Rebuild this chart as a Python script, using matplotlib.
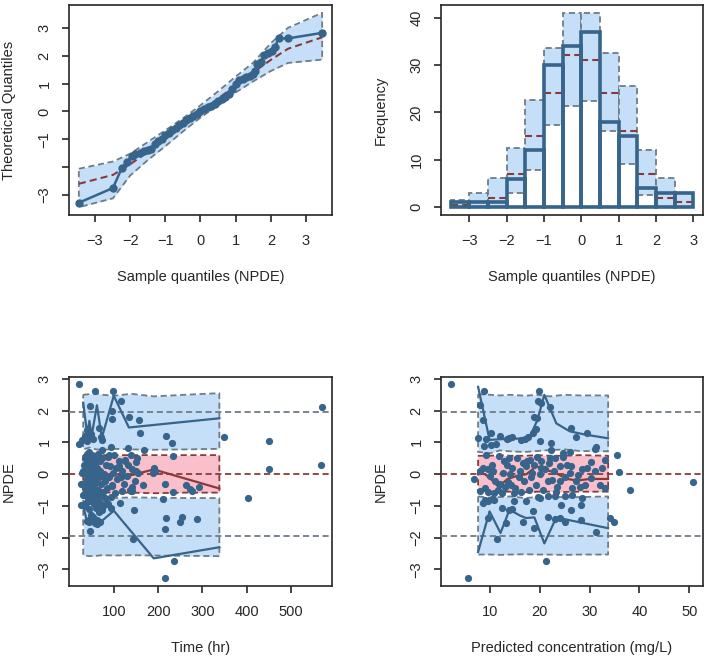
import numpy as np
import matplotlib.pyplot as plt

plt.rcParams['font.family'] = ['Liberation Sans', 'DejaVu Sans']

# ---- data ----
# QQ plot: theoretical quantile (x) vs sorted NPDE (y)
qq_x = [-3.46, -2.49, -2.24, -2.10, -1.95, -1.85, -1.72, -1.62, -1.50, -1.40, -1.30,
        -1.20, -1.10, -1.00, -0.90, -0.80, -0.70, -0.60, -0.50, -0.40, -0.30, -0.20,
        -0.10, 0.00, 0.10, 0.20, 0.30, 0.40, 0.50, 0.60, 0.70, 0.80, 0.90, 1.00, 1.10,
        1.20, 1.30, 1.40, 1.50, 1.56, 1.62, 1.72, 1.82, 1.92, 2.02, 2.12, 2.22, 2.49, 3.46]
qq_y = [-3.28, -2.75, -2.04, -1.82, -1.60, -1.52, -1.48, -1.44, -1.40, -1.36, -1.18,
        -1.08, -0.98, -0.85, -0.76, -0.68, -0.60, -0.50, -0.40, -0.32, -0.25, -0.17,
        -0.08, 0.00, 0.08, 0.14, 0.18, 0.28, 0.36, 0.44, 0.52, 0.62, 0.80, 0.98, 1.12,
        1.16, 1.22, 1.26, 1.34, 1.45, 1.70, 1.76, 2.02, 2.10, 2.16, 2.32, 2.62, 2.62, 2.82]
qq_band_x = [-3.46, -2.49, -2.0, -1.5, -1.0, -0.5, 0.0, 0.5, 1.0, 1.5, 2.0, 2.49, 3.46]
qq_band_lo = [-3.44, -3.12, -2.30, -1.75, -1.25, -0.72, -0.22, 0.22, 0.68, 1.08, 1.45, 1.74, 1.86]
qq_band_med = [-2.60, -2.28, -1.90, -1.45, -0.95, -0.48, 0.00, 0.46, 0.92, 1.40, 1.85, 2.25, 2.66]
qq_band_hi = [-2.06, -1.80, -1.52, -1.10, -0.68, -0.25, 0.22, 0.72, 1.25, 1.75, 2.45, 3.00, 3.54]

# histogram of NPDE, bins of 0.5 from -3.5 to 3
hist_edges = [-3.5, -3.0, -2.5, -2.0, -1.5, -1.0, -0.5, 0.0, 0.5, 1.0, 1.5, 2.0, 2.5, 3.0]
hist_obs = [1, 1, 1, 6, 12, 30, 34, 37, 18, 15, 4, 3, 3]
hist_lo = [0, 0, 0, 3.0, 7.9, 17.4, 21.4, 22.4, 16.0, 9.1, 2.6, 0, 0]
hist_med = [0.5, 1.0, 1.9, 7.0, 15.0, 24.0, 32.0, 31.0, 24.0, 16.0, 7.0, 2.0, 1.0]
hist_hi = [1.5, 3.1, 6.1, 12.5, 22.6, 33.5, 41.0, 41.0, 32.5, 25.6, 12.0, 6.1, 3.0]

# NPDE vs time (hr)
time_obs = np.array([
    (21, 2.84), (58, 2.63), (98, 2.63), (116, 2.32), (46, 2.16), (95, 1.98), (95, 1.73),
    (134, 1.79), (157, 1.71), (160, 1.31), (218, 1.19), (231, 0.99), (67, 1.45), (40, 1.40),
    (72, 1.17), (21, 0.94), (28, 1.08), (32, 1.12), (36, 1.20), (40, 1.05), (44, 1.15),
    (48, 1.25), (52, 1.10), (74, 1.08), (93, 0.85), (132, 0.82), (168, 0.76), (234, 0.58),
    (349, 1.16), (451, 1.03), (570, 2.13), (449, 0.15), (568, 0.29), (402, -0.76),
    (190, 0.20), (193, 0.10), (188, 0.05), (166, -0.34), (233, -0.55), (262, -0.34),
    (272, -0.47), (276, -0.52), (291, -0.39), (212, -0.78), (215, -0.31), (145, -1.13),
    (218, -1.39), (216, -1.71), (249, -1.52), (254, -1.36), (287, -1.40), (144, -2.04),
    (236, -2.74), (215, -3.28), (47, -1.80), (44, -1.50), (68, -1.50), (63, -1.57),
    (26, -0.96), (40, -1.48), (62, -1.43), (73, -1.12), (93, -1.07), (115, -0.91),
    (141, -0.54), (140, -0.40), (119, -0.54), (93, -0.72), (74, 0.76), (89, 0.60),
    (111, 0.26), (126, 0.42), (149, 0.39), (150, 0.10), (96, -0.38), (117, -0.10),
    (138, -0.54),
    (30, 0.10), (33, -0.30), (35, 0.50), (36, -0.60), (38, 0.20), (38, -0.90), (39, 0.65),
    (40, -0.20), (40, 0.35), (41, -0.50), (42, 0.00), (42, -0.75), (43, 0.55), (43, -1.10),
    (44, 0.15), (45, -0.35), (45, 0.70), (46, -0.60), (46, 0.30), (47, -0.05), (47, -0.85),
    (48, 0.45), (49, -0.25), (49, -1.30), (50, 0.60), (50, 0.05), (51, -0.45), (52, 0.25),
    (52, -0.70), (53, -0.15), (54, 0.50), (55, -0.95), (55, 0.10), (56, -0.35), (57, 0.35),
    (58, -0.60), (59, 0.00), (60, 0.55), (61, -0.25), (62, -0.80), (63, 0.20), (64, 0.65),
    (65, -0.50), (66, -0.10), (68, 0.40), (69, -0.70), (70, 0.10), (72, -0.30), (74, 0.50),
    (76, -0.55), (78, 0.00), (80, -0.20), (82, 0.30), (85, -0.45), (88, 0.55), (90, -0.10),
    (92, 0.25), (95, -0.35), (98, 0.05), (100, 0.60), (102, -0.60), (105, 0.20),
    (108, -0.15), (112, 0.40), (118, 0.10), (122, -0.30), (125, 0.45), (130, -0.05),
    (133, 0.30), (136, -0.50), (138, 0.60), (142, 0.15), (148, -0.20), (152, 0.50),
    (155, 0.05), (26, -0.30), (28, 0.05), (30, -0.65), (32, 0.30), (34, -1.00),
    (36, -0.45), (37, 0.00), (39, -0.15), (41, 0.40), (44, -0.55), (48, -0.40), (53, 0.30),
    (58, 0.15), (60, -1.05), (66, -1.20), (70, -0.90), (45, -1.45), (52, -1.35),
    (57, -1.55), (75, -1.00), (80, -0.75), (85, -0.90), (88, -0.95),
])
time_bins = [31, 45, 60, 75, 100, 140, 190, 260, 338]
time_up_hi = [2.50, 2.52, 2.55, 2.50, 2.47, 2.53, 2.45, 2.50, 2.55]
time_up_lo = [0.78, 0.84, 0.78, 0.76, 0.80, 0.78, 0.77, 0.78, 0.80]
time_mid_hi = [0.60, 0.60, 0.58, 0.60, 0.60, 0.60, 0.60, 0.60, 0.60]
time_mid_lo = [-0.58, -0.58, -0.60, -0.58, -0.58, -0.58, -0.60, -0.58, -0.58]
time_dn_hi = [-0.72, -0.78, -0.74, -0.72, -0.75, -0.73, -0.74, -0.75, -0.75]
time_dn_lo = [-2.55, -2.58, -2.57, -2.55, -2.56, -2.55, -2.56, -2.57, -2.58]
time_p_hi_x = [31, 40, 45, 50, 62, 73, 100, 134, 338]
time_p_hi = [2.25, 1.26, 1.68, 1.20, 2.17, 1.15, 2.47, 1.47, 1.76]
time_p_med_x = [31, 40, 50, 62, 75, 100, 134, 190, 338]
time_p_med = [-0.35, -0.10, -0.30, 0.00, -0.15, 0.00, -0.05, 0.15, -0.45]
time_p_lo_x = [31, 40, 50, 62, 75, 100, 190, 338]
time_p_lo = [-1.00, -1.50, -1.30, -1.55, -1.45, -1.15, -2.65, -2.30]

# NPDE vs predicted concentration (mg/L)
pred_obs = np.array([
    (2.1, 2.84), (5.5, -3.28), (6.8, -0.15), (35.5, 0.60), (35.9, 0.08), (38.0, -0.50),
    (50.8, -0.24), (34.1, -1.37), (34.9, -1.50), (21.2, -2.74), (31.2, -1.81),
    (8.7, 2.62), (8.0, 2.18), (8.5, 1.71), (19.8, 2.62), (19.6, 2.30), (20.2, 2.25),
    (22.0, 2.10), (19.5, 1.76), (18.8, 1.80), (26.3, 1.47), (27.2, 1.17), (29.4, 1.31),
    (19.2, 1.42), (18.6, 1.30),
    (7.55, 1.15), (9.2, 1.10), (8.8, 0.90), (10.2, 0.91), (10.2, 1.30), (11.2, 0.94),
    (11.9, 1.20), (13.9, 1.15), (13.5, 1.10), (14.5, 1.18), (16.2, 1.07), (17.7, 1.18),
    (17.0, 1.10), (20.0, 1.05), (22.3, 0.99), (22.2, 0.76), (24.6, 0.68), (26.0, 0.70),
    (31.0, 0.80), (31.3, 0.85),
    (9.2, 0.60), (11.7, 0.57), (13.9, 0.52), (16.6, 0.34), (15.5, 0.50), (17.5, 0.40),
    (7.9, 0.10), (8.5, 0.20), (9.5, 0.15), (10.0, -0.05), (10.5, 0.10), (12.0, -0.30),
    (12.5, 0.05), (13.4, 0.28), (13.0, -0.40), (13.6, -0.25), (14.0, 0.00), (14.2, -0.35),
    (14.5, 0.20), (15.0, -0.45), (16.0, 0.10), (16.8, -0.20), (17.2, 0.25), (18.0, 0.45),
    (18.3, -0.10), (18.8, 0.30), (19.2, -0.35), (19.5, 0.55), (20.0, 0.00), (20.3, 0.40),
    (20.7, -0.50), (21.0, 0.15), (21.6, -0.22), (21.8, 0.35), (22.5, -0.18), (22.8, 0.10),
    (23.0, 0.50), (23.5, -0.40), (24.0, 0.25), (24.6, 0.55), (25.0, -0.10), (25.5, 0.30),
    (26.3, 0.26), (26.5, -0.45), (27.3, -0.22), (27.6, -0.03), (28.5, 0.15), (29.0, -0.35),
    (30.3, 0.39), (30.3, -0.11), (31.0, 0.10), (32.0, -0.33), (32.5, 0.20), (33.0, -0.45),
    (8.9, -0.43), (7.9, -0.54), (9.5, -0.55), (10.8, -0.60), (11.5, -0.50), (12.3, -0.60),
    (10.3, 0.30), (11.0, -0.20), (12.8, 0.40), (15.8, -0.10), (17.8, -0.50), (20.2, 0.20),
    (22.0, 0.50), (24.0, -0.20), (26.0, 0.05), (28.0, -0.40), (29.5, 0.20), (33.0, 0.45),
    (23.2, -0.55), (16.3, -0.55), (14.8, -0.60), (18.5, 0.05),
    (8.55, -0.91), (9.0, -0.80), (9.6, -0.85), (10.3, -0.78), (10.8, -0.82), (12.4, -1.07),
    (13.9, -1.12), (14.4, -1.10), (14.9, -0.85), (17.2, -0.85), (19.6, -0.72), (20.1, -0.75),
    (21.6, -0.70), (23.0, -0.68), (25.0, -0.70), (26.5, -0.65), (28.5, -0.75), (24.3, -0.96),
    (28.3, -0.96), (26.2, -1.14), (21.6, -1.36), (23.0, -1.40), (24.0, -1.38), (25.0, -1.50),
    (28.3, -1.43), (9.6, -1.38), (13.1, -1.54), (11.4, -2.03), (16.6, -1.51), (18.6, -1.17),
    (18.8, -1.68),
])
pred_bins = [7.6, 10, 12, 14, 17, 19.5, 22, 25, 28, 33.7]
pred_up_hi = [2.52, 2.50, 2.48, 2.50, 2.47, 2.50, 2.45, 2.50, 2.48, 2.48]
pred_up_lo = [0.70, 0.66, 0.75, 0.72, 0.70, 0.73, 0.76, 0.78, 0.73, 0.72]
pred_mid_hi = [0.58, 0.58, 0.60, 0.58, 0.58, 0.60, 0.58, 0.58, 0.60, 0.58]
pred_mid_lo = [-0.55, -0.56, -0.55, -0.55, -0.57, -0.55, -0.55, -0.56, -0.55, -0.55]
pred_dn_hi = [-0.70, -0.74, -0.72, -0.70, -0.75, -0.72, -0.70, -0.73, -0.72, -0.70]
pred_dn_lo = [-2.53, -2.53, -2.54, -2.53, -2.52, -2.53, -2.53, -2.54, -2.53, -2.53]
pred_p_hi_x = [7.6, 9.9, 12, 15, 17.8, 19.5, 20.9, 23.3, 26, 29, 33.7]
pred_p_hi = [2.75, 1.08, 1.10, 1.12, 1.12, 1.70, 2.50, 1.60, 1.35, 1.25, 1.13]
pred_p_med_x = [7.6, 9.0, 10.5, 11.7, 13.5, 15.5, 17.3, 19.3, 21, 23, 25.5, 27.5, 30, 33.7]
pred_p_med = [0.03, 0.00, -0.20, -0.40, -0.15, -0.05, 0.00, 0.25, 0.15, 0.05, -0.15, -0.20,
              -0.15, -0.15]
pred_p_lo_x = [7.6, 9.9, 12.1, 13.9, 16, 17.2, 18.9, 20.9, 23.3, 26, 33.7]
pred_p_lo = [-2.45, -1.17, -1.85, -1.12, -1.30, -1.38, -1.36, -2.18, -1.36, -1.45, -1.70]

# ---- styles ----
STEEL = '#36648B'
FILL = '#C6DFF8'
PINK = '#F9C0CB'
RED = '#8B3A3A'
GREY = '#6F7B87'
TXT = '#262626'
DASH = (0, (3.4, 2.0))


def r_style(ax, xticks, yticks, ylabels=None):
    for s in ax.spines.values():
        s.set_linewidth(1.2)
        s.set_color(TXT)
    ax.set_xticks(xticks)
    ax.set_yticks(yticks)
    if ylabels is not None:
        ax.set_yticklabels(ylabels)
    ax.tick_params(direction='out', length=5, width=1.2, pad=8.5, labelsize=10.5,
                   colors=TXT)
    ax.tick_params(axis='y', labelrotation=90, pad=7.5)
    for lbl in ax.get_yticklabels():
        lbl.set_va('center')


def labels(ax, xlab, ylab):
    ax.set_xlabel(xlab, fontsize=10.5, color=TXT)
    ax.set_ylabel(ylab, fontsize=10.5, color=TXT)
    ax.xaxis.set_label_coords(0.5, -62 / 210)
    ax.yaxis.set_label_coords(-60 / 263, 0.5)
    ax.xaxis.label.set_va('center')
    ax.yaxis.label.set_va('center')


def band(ax, x, lo, hi, face, edge):
    x, lo, hi = np.asarray(x), np.asarray(lo), np.asarray(hi)
    ax.fill_between(x, lo, hi, color=face, lw=0, zorder=1)
    ax.plot(np.r_[x, x[::-1], x[:1]], np.r_[hi, lo[::-1], hi[:1]],
            color=edge, lw=1.3, ls=DASH, zorder=2)


fig = plt.figure(figsize=(7.08, 6.61), dpi=100)
W, H = 708, 661
ax1 = fig.add_axes([69 / W, 1 - 215 / H, 263 / W, 210 / H])
ax2 = fig.add_axes([441 / W, 1 - 215 / H, 262 / W, 210 / H])
ax3 = fig.add_axes([69 / W, 1 - 586 / H, 263 / W, 209 / H])
ax4 = fig.add_axes([441 / W, 1 - 586 / H, 262 / W, 209 / H])

# QQ plot
band(ax1, qq_band_x, qq_band_lo, qq_band_hi, FILL, GREY)
ax1.plot(qq_band_x, qq_band_med, color=RED, lw=1.5, ls=DASH, zorder=3)
ax1.plot(qq_x, qq_y, color=STEEL, lw=1.8, marker='o', ms=5, zorder=4)
ax1.set_xlim(-3.74, 3.74)
ax1.set_ylim(-3.72, 3.82)
r_style(ax1, range(-3, 4), range(-3, 4), ['\u22123', '', '\u22121', '0', '1', '2', '3'])
labels(ax1, 'Sample quantiles (NPDE)', 'Theoretical Quantiles')

# histogram
edges = np.array(hist_edges)
left, right = edges[:-1], edges[1:]
centers = (left + right) / 2
ax2.bar(centers, np.array(hist_hi) - np.array(hist_lo), bottom=hist_lo, width=0.5,
        color=FILL, edgecolor=GREY, linestyle=DASH, lw=1.3, zorder=1)
ax2.hlines(hist_med, left, right, colors=RED, linestyles=DASH, lw=1.5, zorder=2)
ax2.bar(centers, hist_obs, width=0.5, fill=False, edgecolor=STEEL, lw=2.6, zorder=3)
ax2.set_xlim(-3.76, 3.26)
ax2.set_ylim(-1.64, 42.64)
r_style(ax2, range(-3, 4), [0, 10, 20, 30, 40])
labels(ax2, 'Sample quantiles (NPDE)', 'Frequency')


def npde_panel(ax, obs, bins, up_hi, up_lo, mid_hi, mid_lo, dn_hi, dn_lo,
               phx, ph, pmx, pm, plx, pl):
    band(ax, bins, up_lo, up_hi, FILL, GREY)
    band(ax, bins, dn_lo, dn_hi, FILL, GREY)
    band(ax, bins, mid_lo, mid_hi, PINK, RED)
    ax.axhline(0, color=RED, lw=1.3, ls=DASH, zorder=3)
    for yv in (-1.96, 1.96):
        ax.axhline(yv, color=GREY, lw=1.3, ls=DASH, zorder=3)
    ax.plot(phx, ph, color=STEEL, lw=1.6, zorder=4)
    ax.plot(plx, pl, color=STEEL, lw=1.6, zorder=4)
    ax.plot(pmx, pm, color=RED, lw=1.6, zorder=4)
    ax.scatter(obs[:, 0], obs[:, 1], s=27, color=STEEL, lw=0, zorder=5)
    ax.set_ylim(-3.52, 3.06)


npde_panel(ax3, time_obs, time_bins, time_up_hi, time_up_lo, time_mid_hi, time_mid_lo,
           time_dn_hi, time_dn_lo, time_p_hi_x, time_p_hi, time_p_med_x, time_p_med,
           time_p_lo_x, time_p_lo)
ax3.set_xlim(-1, 592)
r_style(ax3, [100, 200, 300, 400, 500], range(-3, 4))
labels(ax3, 'Time (hr)', 'NPDE')

npde_panel(ax4, pred_obs, pred_bins, pred_up_hi, pred_up_lo, pred_mid_hi, pred_mid_lo,
           pred_dn_hi, pred_dn_lo, pred_p_hi_x, pred_p_hi, pred_p_med_x, pred_p_med,
           pred_p_lo_x, pred_p_lo)
ax4.set_xlim(0.15, 52.75)
r_style(ax4, [10, 20, 30, 40, 50], range(-3, 4))
labels(ax4, 'Predicted concentration (mg/L)', 'NPDE')

fig.savefig('out.png', dpi=100)
